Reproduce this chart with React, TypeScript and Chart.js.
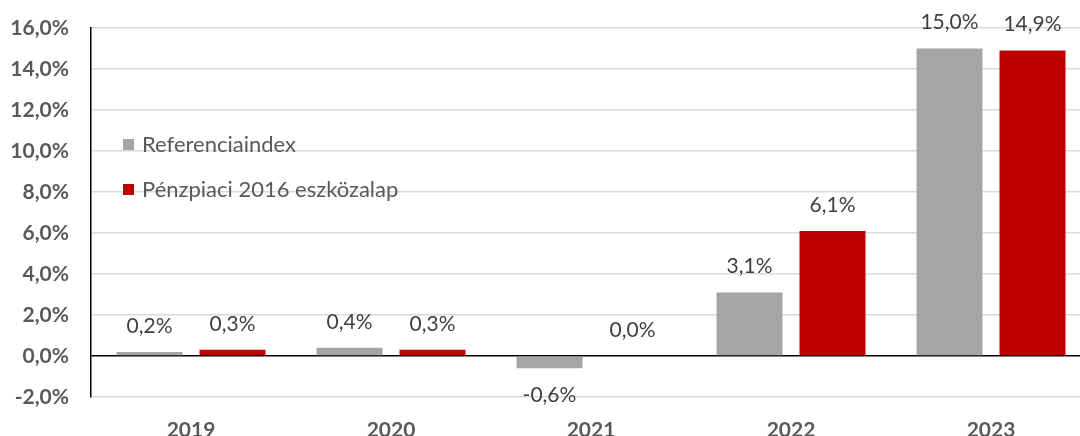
import React, { useEffect, useRef } from "react";
import { Chart, registerables } from "chart.js";

Chart.register(...registerables);

const categories = ["2019", "2020", "2021", "2022", "2023"];
const seriesNames = ["Referenciaindex", "Pénzpiaci 2016 eszközalap"];
const referenciaValues = [0.2, 0.4, -0.6, 3.1, 15.0];
const alapValues = [0.3, 0.3, 0.0, 6.1, 14.9];
const seriesColors = ["#A5A5A5", "#C00000"];
const yTicks = [-2, 0, 2, 4, 6, 8, 10, 12, 14, 16];

const FONT = "Lato, 'Noto Sans', sans-serif";
const fmt = (v: number) => v.toFixed(1).replace(".", ",") + "%";

const labelPlugin = {
  id: "valueLabels",
  afterDatasetsDraw(chart: any) {
    const ctx = chart.ctx;
    ctx.save();
    ctx.font = `21px ${FONT}`;
    ctx.fillStyle = "#404040";
    ctx.textAlign = "center";
    ctx.textBaseline = "middle";
    chart.data.datasets.forEach((ds: any, i: number) => {
      const meta = chart.getDatasetMeta(i);
      meta.data.forEach((bar: any, j: number) => {
        const v = ds.data[j];
        const y = v < 0 ? bar.y + 27 : bar.y - 26;
        ctx.fillText(fmt(v), bar.x, y);
      });
    });
    ctx.restore();
  },
};

const legendPlugin = {
  id: "innerLegend",
  afterDraw(chart: any) {
    const ctx = chart.ctx;
    ctx.save();
    ctx.font = `22px ${FONT}`;
    ctx.textBaseline = "middle";
    ctx.textAlign = "left";
    const ys = [145, 190];
    seriesNames.forEach((name, i) => {
      ctx.fillStyle = seriesColors[i];
      ctx.fillRect(123, ys[i] - 6, 11, 11);
      ctx.fillStyle = "#595959";
      ctx.fillText(name, 142, ys[i]);
    });
    ctx.restore();
  },
};

export default function App() {
  const ref = useRef<HTMLCanvasElement>(null);
  useEffect(() => {
    if (!ref.current) return;
    const chart = new Chart(ref.current, {
      type: "bar",
      data: {
        labels: categories,
        datasets: [
          {
            label: seriesNames[0],
            data: referenciaValues,
            backgroundColor: seriesColors[0],
            categoryPercentage: 0.83,
            barPercentage: 0.795,
          },
          {
            label: seriesNames[1],
            data: alapValues,
            backgroundColor: seriesColors[1],
            categoryPercentage: 0.83,
            barPercentage: 0.795,
          },
        ],
      },
      options: {
        animation: false,
        responsive: false,
        maintainAspectRatio: false,
        layout: { padding: { left: 0, right: 9, top: 28, bottom: 0 } },
        plugins: {
          legend: { display: false },
          tooltip: { enabled: false },
        },
        scales: {
          x: {
            grid: { display: false },
            border: { display: false },
            ticks: {
              color: "#595959",
              font: { family: FONT, size: 21, weight: "bold" },
              padding: 13,
            },
            afterFit(scale: any) {
              scale.height = 39;
              scale.paddingLeft = 0;
              scale.paddingRight = 0;
            },
          },
          y: {
            min: -2,
            max: 16,
            afterBuildTicks(scale: any) {
              scale.ticks = yTicks.map((v) => ({ value: v }));
            },
            grid: {
              color: (c: any) => (c.tick && c.tick.value === 0 ? "#000000" : "#D9D9D9"),
              lineWidth: 1.5,
              drawTicks: false,
            },
            border: { display: true, color: "#000000", width: 1.5 },
            ticks: {
              color: "#595959",
              font: { family: FONT, size: 21, weight: "bold" },
              padding: 22,
              callback: (v: any) => fmt(Number(v)),
            },
            afterFit(scale: any) {
              scale.width = 91;
              scale.paddingTop = 0;
              scale.paddingBottom = 0;
            },
          },
        },
      },
      plugins: [labelPlugin, legendPlugin],
    } as any);
    return () => chart.destroy();
  }, []);
  return (
    <div style={{ position: "absolute", left: 0, top: 0, width: 1080, height: 436, overflow: "hidden", background: "#fff" }}>
      <canvas ref={ref} width={1100} height={436} style={{ display: "block" }} />
    </div>
  );
}
